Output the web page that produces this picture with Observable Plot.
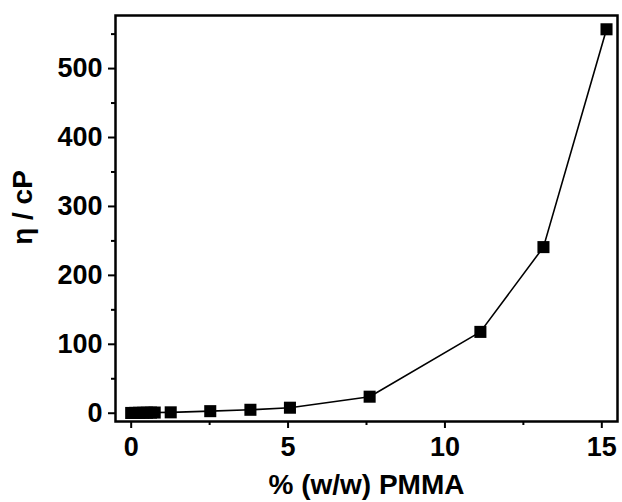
<!DOCTYPE html>
<html>
<head>
<meta charset="utf-8">
<script src="https://cdn.jsdelivr.net/npm/d3@7"></script>
<script src="https://cdn.jsdelivr.net/npm/@observablehq/plot@0.6"></script>
<style>
  html, body { margin: 0; padding: 0; background: #fff; }
  svg { font-family: "Liberation Sans", Arial, sans-serif; }
</style>
</head>
<body>
<div id="chart"></div>
<script>
const pmma = [0, 0.13, 0.25, 0.38, 0.5, 0.63, 0.75, 1.26, 2.52, 3.8, 5.06, 7.6, 11.13, 13.14, 15.15];
const viscosity = [0.4, 0.5, 0.6, 0.7, 0.8, 0.9, 1.0, 1.3, 3, 5, 8, 24, 118, 241, 557];
const xMajor = [0, 5, 10, 15];
const xMinor = [2.5, 7.5, 12.5];
const yMajor = [0, 100, 200, 300, 400, 500];
const yMinor = [50, 150, 250, 350, 450, 550];

const data = pmma.map((x, i) => ({x, y: viscosity[i]}));

const chart = Plot.plot({
  width: 622,
  height: 502,
  marginLeft: 115,
  marginRight: 5,
  marginTop: 15,
  marginBottom: 81,
  style: {fontFamily: '"Liberation Sans", Arial, sans-serif', background: "#fff", color: "#000"},
  x: {domain: [-0.5, 15.5]},
  y: {domain: [-12, 577]},
  marks: [
    Plot.axisX({ticks: xMajor, tickSize: 7, tickPadding: 8, strokeWidth: 2, fontSize: 27, fontWeight: "bold", label: null, tickFormat: d => String(d)}),
    Plot.axisX({ticks: xMinor, tickSize: 4, strokeWidth: 2, text: null, label: null}),
    Plot.axisY({ticks: yMajor, tickSize: 7, tickPadding: 6, strokeWidth: 2, fontSize: 27, fontWeight: "bold", label: null, tickFormat: d => String(d)}),
    Plot.axisY({ticks: yMinor, tickSize: 4, strokeWidth: 2, text: null, label: null}),
    Plot.frame({stroke: "#000", strokeWidth: 2.5}),
    Plot.line(data, {x: "x", y: "y", stroke: "#000", strokeWidth: 1.6}),
    Plot.dot(data, {x: "x", y: "y", symbol: "square", r: 6.8, fill: "#000", stroke: "none"}),
    Plot.text(["% (w/w) PMMA"], {frameAnchor: "bottom", dy: 72, fontSize: 28, fontWeight: "bold", fill: "#000"}),
    Plot.text(["η / cP"], {frameAnchor: "left", textAnchor: "middle", dx: -92, dy: -11, rotate: -90, fontSize: 28, fontWeight: "bold", fill: "#000", style: "letter-spacing: 1px"})
  ]
});
document.getElementById("chart").appendChild(chart);
</script>
</body>
</html>
